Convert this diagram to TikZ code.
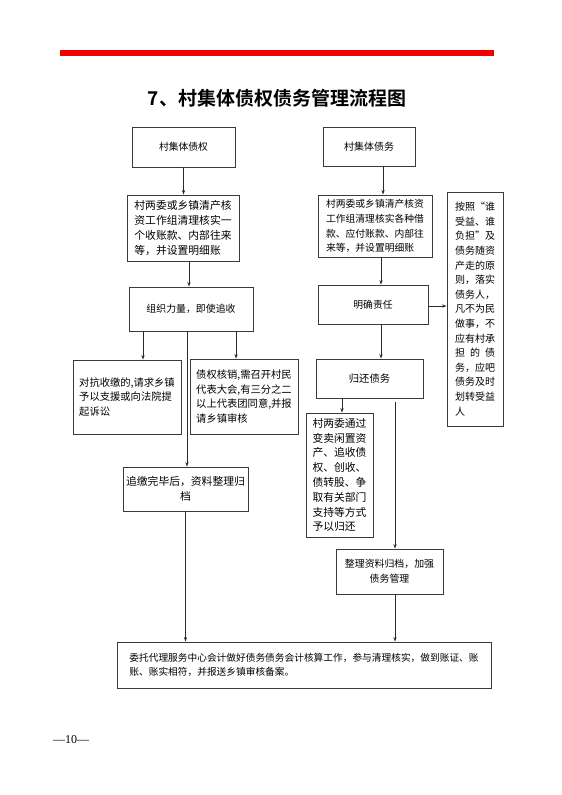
\documentclass[tikz,border=0pt]{standalone}
\usepackage{fontspec}
\setmainfont{Noto Sans CJK SC}[BoldFont={Noto Sans CJK SC Bold}]
\newfontfamily\pagefont{Liberation Serif}
\usetikzlibrary{arrows.meta,calc}
\definecolor{boxc}{HTML}{3A3A3A}
\definecolor{arrc}{HTML}{2A2A2A}
\definecolor{topred}{HTML}{F00000}
\newcommand{\fsz}[1]{\fontsize{#1}{14.8}\selectfont}
\begin{document}
\begin{tikzpicture}[x=1pt,y=-1pt,
  box/.style={draw=boxc, line width=0.9pt, inner sep=0pt, align=left, font=\fsz{10.3}},
  arr/.style={draw=arrc, line width=0.6pt, -{Stealth[length=4.5pt,width=3.2pt]}},
  ln/.style={draw=arrc, line width=0.6pt}]
\useasboundingbox (0,0) rectangle (562,795);
\fill[white] (0,0) rectangle (562,795);

% top red rule
\draw[topred, line width=5.5pt] (60,53) -- (494,53);

% title
\node[font=\fontsize{19}{19}\selectfont\bfseries] (title) at (277,98) {7、村集体债权债务管理流程图};

% left column
\node[box, minimum width=103pt, minimum height=40pt, font=\fsz{9.8}] (b1) at (183.5,147) {村集体债权};
\node[box, minimum width=112pt, minimum height=66pt, font=\fsz{10.8}] (b2) at (183,228)
  {村两委或乡镇清产核\\资工作组清理核实一\\个收账款、内部往来\\等，并设置明细账};
\node[box, minimum width=124pt, minimum height=44pt, font=\fsz{9.9}] (b3) at (191,309) {组织力量，即使追收};
\node[box, minimum width=108pt, minimum height=74pt, font=\fsz{10.3}] (b4) at (127,397)
  {对抗收缴的,请求乡镇\\予以支援或向法院提\\起诉讼};
\node[box, minimum width=108pt, minimum height=75pt, font=\fsz{10.3}] (b5) at (244,396.5)
  {债权核销,需召开村民\\代表大会,有三分之二\\以上代表团同意,并报\\请乡镇审核};
\node[box, minimum width=125pt, minimum height=44pt, align=center, font=\fsz{10.8}] (b6) at (185.5,489)
  {追缴完毕后，资料整理归\\档};

% right column
\node[box, minimum width=92pt, minimum height=39pt, font=\fsz{10}] (r1) at (369,146.5) {村集体债务};
\node[box, minimum width=114pt, minimum height=62pt, font=\fsz{9.8}] (r2) at (375,226)
  {村两委或乡镇清产核资\\工作组清理核实各种借\\款、应付账款、内部往\\来等，并设置明细账};
\node[box, minimum width=110pt, minimum height=39pt, font=\fsz{9.8}] (r3) at (373,304.5) {明确责任};
\node[box, minimum width=56pt, minimum height=234pt, font=\fontsize{10}{14.6}\selectfont] (side) at (475,309)
  {按照“谁\\受益、谁\\负担”及\\债务随资\\产走的原\\则，落实\\债务人，\\凡不为民\\做事，不\\应有村承\\\makebox[40pt]{担\hfill 的\hfill 债}\\务，应吧\\债务及时\\划转受益\\人};
\node[box, minimum width=107pt, minimum height=39pt, font=\fsz{10.3}] (r4) at (369.5,378.5) {归还债务};
\node[box, minimum width=67pt, minimum height=124pt, font=\fsz{10.8}] (r5) at (339.5,475)
  {村两委通过\\变卖闲置资\\产、追收债\\权、创收、\\债转股、争\\取有关部门\\支持等方式\\予以归还};
\node[box, minimum width=107pt, minimum height=45pt, align=center, font=\fsz{9.9}] (r6) at (389.5,571.5)
  {整理资料归档，加强\\债务管理};

% bottom box
\node[box, minimum width=374pt, minimum height=46pt, font=\fsz{9.7}] (b8) at (304,665)
  {委托代理服务中心会计做好债务债务会计核算工作，参与清理核实，做到账证、账\\账、账实相符，并报送乡镇审核备案。};

% page number
\node[font=\pagefont\fontsize{12}{12}\selectfont] (pg) at (71,740) {—10—};

% connectors, left
\draw[arr] (b1.south) -- (b1.south |- b2.north);
\draw[arr] ([xshift=6pt]b2.south) -- ([xshift=6pt]b2.south |- b3.north);
\draw[arr] ([xshift=-48pt]b3.south) -- ([xshift=-48pt]b3.south |- b4.north);
\draw[arr] ([xshift=45pt]b3.south) -- ([xshift=45pt]b3.south |- b5.north);
\draw[arr] ([xshift=-4pt]b3.south) -- ([xshift=-4pt]b3.south |- b6.north);
\draw[arr] (b6.south) -- (b6.south |- b8.north);

% connectors, right
\draw[arr] ([xshift=14pt]r1.south) -- ([xshift=14pt]r1.south |- r2.north);
\draw[arr] ([xshift=6pt]r2.south) -- ([xshift=6pt]r2.south |- r3.north);
\draw[arr] ([yshift=-1.5pt]r3.east) -- ([yshift=-1.5pt]r3.east -| side.west);
\draw[arr] ([xshift=8pt]r3.south) -- ([xshift=8pt]r3.south |- r4.north);
\draw[arr] ([xshift=-27.5pt]r4.south) -- ([xshift=-27.5pt]r4.south |- r5.north);
\draw[arr] ([xshift=25.5pt,yshift=-4pt]r4.south) -- ([xshift=25.5pt]r4.south |- r6.north);
\draw[arr] ([xshift=5.5pt]r6.south) -- ([xshift=5.5pt]r6.south |- b8.north);
\end{tikzpicture}
\end{document}
